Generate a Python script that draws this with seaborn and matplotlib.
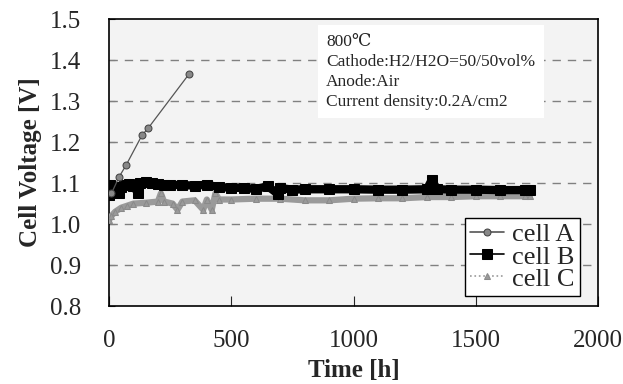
import matplotlib
matplotlib.use("Agg")
import matplotlib.pyplot as plt
import seaborn as sns
import pandas as pd

# cell A
time_a = [10, 41, 70, 135, 160, 327]
volt_a = [1.075, 1.115, 1.144, 1.217, 1.234, 1.366]

# cell B
time_b = [0, 5, 10, 20, 30, 40, 50, 60, 80, 100, 120, 125, 150, 175, 200, 225, 250, 300, 350,
          400, 450, 500, 550, 600, 650, 690, 700, 750, 800, 900, 1000, 1100, 1200, 1300,
          1320, 1340, 1400, 1500, 1600, 1700, 1720]
volt_b = [1.07, 1.095, 1.08, 1.09, 1.085, 1.075, 1.09, 1.095, 1.097, 1.092, 1.075, 1.10, 1.102,
          1.101, 1.098, 1.096, 1.096, 1.095, 1.094, 1.096, 1.09, 1.089, 1.088, 1.086, 1.092,
          1.074, 1.088, 1.084, 1.085, 1.085, 1.085, 1.084, 1.084, 1.085, 1.108, 1.085, 1.084,
          1.084, 1.083, 1.083, 1.082]

# cell C
time_c = [0, 10, 25, 50, 75, 100, 150, 200, 212, 225, 260, 280, 300, 350, 385, 400, 420,
          435, 450, 500, 600, 700, 800, 900, 1000, 1100, 1200, 1300, 1400, 1500, 1600,
          1700, 1720]
volt_c = [1.01, 1.02, 1.03, 1.04, 1.045, 1.05, 1.052, 1.055, 1.075, 1.055, 1.05, 1.035,
          1.055, 1.058, 1.035, 1.06, 1.035, 1.075, 1.06, 1.06, 1.062, 1.062, 1.058, 1.058,
          1.062, 1.063, 1.063, 1.066, 1.066, 1.068, 1.068, 1.068, 1.068]

df_a = pd.DataFrame({"t": time_a, "v": volt_a})
df_b = pd.DataFrame({"t": time_b, "v": volt_b})
df_c = pd.DataFrame({"t": time_c, "v": volt_c})

sns.set_style("ticks")
plt.rcParams["font.family"] = ["Liberation Serif", "DejaVu Serif"]

fig = plt.figure(figsize=(6.23, 3.84), dpi=100)
ax = fig.add_axes([0.175, 0.203, 0.785, 0.747])
ax.set_facecolor("#f3f3f3")

sns.lineplot(data=df_c, x="t", y="v", ax=ax, sort=False, estimator=None, color="#9a9a9a",
             lw=4.5, marker="^", markersize=5, markeredgecolor="#8a8a8a",
             label="cell C", zorder=3)
sns.lineplot(data=df_b, x="t", y="v", ax=ax, sort=False, estimator=None, color="black",
             lw=6, marker="s", markersize=7, markeredgecolor="black", label="cell B", zorder=4)
sns.lineplot(data=df_a, x="t", y="v", ax=ax, sort=False, estimator=None, color="#555555",
             lw=0.9, marker="o", markersize=5, markerfacecolor="#888888",
             markeredgecolor="#444444", label="cell A", zorder=5)

ax.set_xlim(0, 2000)
ax.set_ylim(0.8, 1.5)
ax.set_xticks([0, 500, 1000, 1500, 2000])
ax.set_yticks([0.8, 0.9, 1.0, 1.1, 1.2, 1.3, 1.4, 1.5])
ax.set_yticklabels([f"{v:.1f}" for v in [0.8, 0.9, 1.0, 1.1, 1.2, 1.3, 1.4, 1.5]])
ax.tick_params(axis="x", direction="in", length=7, labelsize=18, pad=17)
ax.tick_params(axis="y", direction="in", length=4, labelsize=18, pad=20)
for v in [0.9, 1.0, 1.1, 1.2, 1.3, 1.4]:
    ax.axhline(v, color="#808080", lw=1, dashes=(6, 5), zorder=1)
for s in ax.spines.values():
    s.set_color("black")
    s.set_linewidth(1.2)

ax.set_xlabel("Time [h]", fontsize=18, fontweight="bold", labelpad=5)
ax.set_ylabel("Cell Voltage [V]", fontsize=18, fontweight="bold", labelpad=6)

ax.text(0.444, 0.95,
        "800\u2103\nCathode:H2/H2O=50/50vol%\nAnode:Air\nCurrent density:0.2A/cm2",
        transform=ax.transAxes, fontsize=12.5, va="top", ha="left", linespacing=1.35,
        bbox=dict(facecolor="white", edgecolor="none", pad=6), zorder=2)

h, l = ax.get_legend_handles_labels()
order = [2, 1, 0]
leg = ax.legend([h[i] for i in order], [l[i] for i in order], loc="lower right",
                bbox_to_anchor=(0.963, 0.035), fontsize=19, frameon=True, fancybox=False,
                edgecolor="black", framealpha=1, handlelength=1.3, handletextpad=0.3,
                borderpad=0.2, labelspacing=-0.05, borderaxespad=0)
leg.get_frame().set_linewidth(1)
styles = ["-", "-", ":"]
for lh, st in zip(leg.get_lines(), styles):
    lh.set_linewidth(1.2)
    lh.set_linestyle(st)

fig.savefig("out.png", dpi=100)
